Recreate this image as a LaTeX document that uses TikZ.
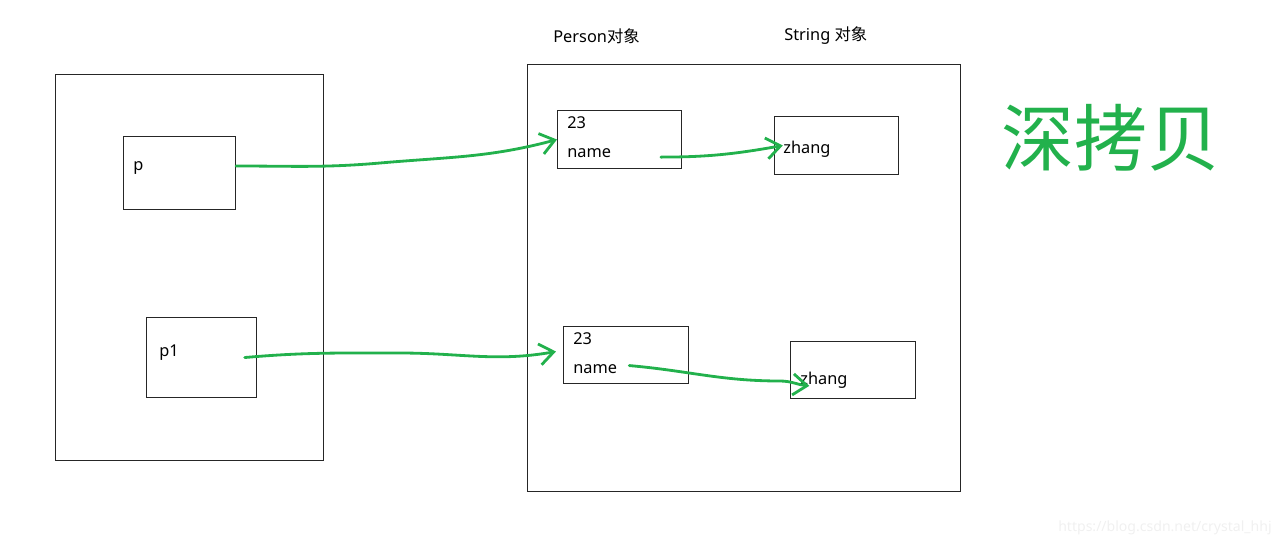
\documentclass[tikz,border=0pt]{standalone}
\usepackage{fontspec}
\setmainfont{Noto Sans}
\newfontfamily\cjk{Noto Sans CJK SC}
\usetikzlibrary{arrows.meta}
\definecolor{penGreen}{HTML}{22B14C}
\tikzset{
  box/.style={draw=black!85, line width=0.6pt, inner sep=0pt, anchor=north west},
  txt/.style={inner sep=0pt, anchor=west, font=\fontsize{9.3pt}{10pt}\selectfont},
  pen/.style={penGreen, line width=1.6pt, line cap=round,
    -{Straight Barb[length=8pt, width=12pt, line width=1.6pt]}}
}

\begin{document}
\begin{tikzpicture}[x=0.02cm, y=-0.02cm]
        \useasboundingbox (0,0) rectangle (1280,545);

        % stack side
        \node[box, minimum width=5.36cm, minimum height=7.72cm] (stack) at (55,74) {};
        \node[box, minimum width=2.24cm, minimum height=1.46cm] (pbox) at (123,136) {};
        \node[txt] (p) at (133,168) {p};
        \node[box, minimum width=2.2cm, minimum height=1.6cm] (ponebox) at (146,317) {};
        \node[txt] (pone) at (159,353) {p1};

        % heap side
        \node[box, minimum width=8.66cm, minimum height=8.54cm] (heap) at (527,64) {};
        \node[txt] (lperson) at (553,36) {Person{\cjk 对象}};
        \node[txt] (lstring) at (784,36) {String {\cjk 对象}};

        \node[box, minimum width=2.48cm, minimum height=1.16cm] (pA) at (557,110) {};
        \node[txt] (ageA) at (567,123) {23};
        \node[txt] (nameA) at (567,153) {name};
        \node[box, minimum width=2.48cm, minimum height=1.16cm] (sA) at (774,116) {};
        \node[txt] (zhangA) at (783,149) {zhang};

        \node[box, minimum width=2.5cm, minimum height=1.14cm] (pB) at (563,326) {};
        \node[txt] (ageB) at (573,339) {23};
        \node[txt] (nameB) at (573,369) {name};
        \node[box, minimum width=2.5cm, minimum height=1.14cm] (sB) at (790,341) {};
        \node[txt] (zhangB) at (800,380) {zhang};

        % title and watermark
        \node[inner sep=0pt, text=penGreen, font=\cjk\fontsize{41.5pt}{42pt}\selectfont] (title) at (1111,138) {深拷贝};
        \node[inner sep=0pt, anchor=east, text=black!6, font=\fontsize{8pt}{9pt}\selectfont] (mark) at (1272,528) {https://blog.csdn.net/crystal\_hhj};

        % references
        \draw[pen] ([yshift=4pt]pbox.east) to[out=0, in=185] (380,163) to[out=5, in=195] (pA.west);
        \draw[pen] ([shift={(-12pt,-10pt)}]pA.east) to[out=0, in=190] ([xshift=5pt]sA.west);
        \draw[pen] ([xshift=-7pt]ponebox.east) to[out=5, in=180] (400,353) to[out=0, in=190] ([shift={(-4pt,2pt)}]pB.west);
        \draw[pen] ([shift={(-34pt,-6pt)}]pB.east) to[out=-5, in=180] (780,381) to[out=0, in=175] ([shift={(11pt,-9pt)}]sB.west);
\end{tikzpicture}
\end{document}
